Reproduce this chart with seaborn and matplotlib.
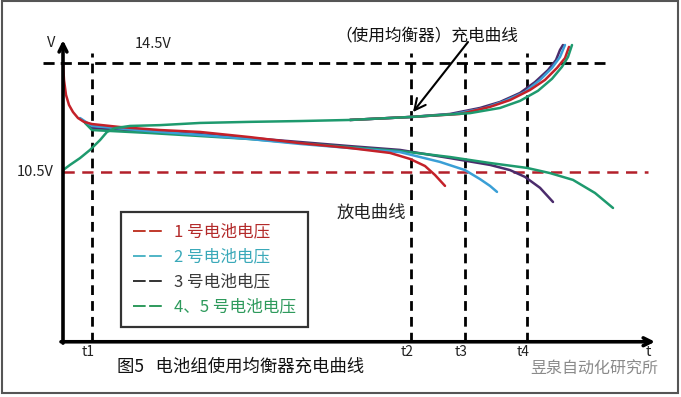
import numpy as np
import pandas as pd
import matplotlib
matplotlib.use("Agg")
import matplotlib.pyplot as plt
import seaborn as sns
from matplotlib.lines import Line2D
from matplotlib.patches import Rectangle

sns.set_theme(style="white")
plt.rcParams['font.family'] = ['Noto Sans CJK SC', 'DejaVu Sans']

# ---------------- data (time in arbitrary units, voltage in V) ----------------
# discharge curves
red_dis_t = [0, 0.1, 0.3, 0.6, 1.0, 1.5, 2.1, 2.9, 5.7, 9.7, 13.7, 18.7, 23.7, 28.7, 32.7, 34.7, 36.2, 37.2, 38.2]
red_dis_v = [14.5, 13.88, 13.33, 12.96, 12.70, 12.48, 12.34, 12.26, 12.15, 12.04, 11.97, 11.78, 11.56, 11.38, 11.20, 10.98, 10.72, 10.39, 9.99]

blue_dis_t = [1.7, 2.9, 8.7, 13.7, 18.7, 23.7, 28.7, 33.7, 37.7, 40.2, 41.7, 42.7, 43.4]
blue_dis_v = [12.48, 12.19, 12.00, 11.86, 11.71, 11.53, 11.38, 11.23, 10.87, 10.57, 10.24, 9.99, 9.77]

purple_dis_t = [1.9, 2.9, 8.7, 13.7, 18.7, 23.7, 28.7, 33.7, 38.7, 42.7, 44.7, 46.2, 47.7, 49.0]
purple_dis_v = [12.41, 12.11, 12.00, 11.89, 11.75, 11.60, 11.45, 11.31, 11.01, 10.76, 10.57, 10.32, 9.92, 9.40]

green_dis_t = [2.2, 2.9, 8.7, 13.7, 18.7, 23.7, 28.7, 33.7, 38.7, 42.7, 46.4, 48.7, 51.0, 53.2, 55.0]
green_dis_v = [12.30, 12.04, 11.93, 11.82, 11.71, 11.56, 11.41, 11.27, 11.05, 10.83, 10.65, 10.46, 10.21, 9.73, 9.18]

# charge curves (with balancer)
purple_chg_t = [28.7, 34.8, 38.7, 41.7, 43.7, 45.7, 47.2, 48.5, 49.3, 49.7, 50.0]
purple_chg_v = [12.41, 12.52, 12.63, 12.85, 13.07, 13.40, 13.80, 14.24, 14.61, 14.98, 15.16]

blue_chg_t = [28.7, 34.8, 39.2, 42.2, 44.2, 46.2, 47.7, 48.9, 49.7, 50.2]
blue_chg_v = [12.41, 12.52, 12.63, 12.85, 13.11, 13.44, 13.88, 14.32, 14.72, 15.16]

red_chg_t = [28.7, 34.8, 39.7, 42.7, 44.7, 46.7, 48.2, 49.4, 50.2, 50.6]
red_chg_v = [12.41, 12.52, 12.63, 12.89, 13.14, 13.51, 13.88, 14.32, 14.68, 15.09]

green_chg_t = [0, 0.7, 1.7, 2.7, 3.7, 4.4, 5.2, 6.7, 9.7, 13.7, 18.7, 23.7, 28.7, 34.8, 40.7, 43.7, 45.7, 47.5, 48.9, 49.9, 50.5, 50.9]
green_chg_v = [10.57, 10.76, 11.01, 11.31, 11.67, 11.97, 12.11, 12.19, 12.22, 12.30, 12.34, 12.37, 12.41, 12.52, 12.66, 12.85, 13.11, 13.48, 13.92, 14.36, 14.72, 15.16]

# reference marks
t_marks = [2.9, 34.8, 40.2, 46.4]
t_labels = ["t1", "t2", "t3", "t4"]
v_high, v_low = 14.5, 10.5
v_high_label, v_low_label = "14.5V", "10.5V"

legend_labels = ["1 号电池电压", "2 号电池电压", "3 号电池电压", "4、5 号电池电压"]
title_text = "（使用均衡器）充电曲线"
discharge_text = "放电曲线"
caption_text = "图5   电池组使用均衡器充电曲线"
watermark_text = "昱泉自动化研究所"

# ---------------- styling ----------------
C_RED = "#c42129"
C_BLUE = "#3a9fd6"
C_PURPLE = "#4b2c6c"
C_GREEN = "#1e9a6e"

W, H = 681, 397
def P(x, y):
    return (x / W, 1 - y / H)

fig = plt.figure(figsize=(W / 100, H / 100), dpi=100)
fig.patch.set_facecolor("white")
ax = fig.add_axes([0, 0, 1, 1])
ax.set_xlim(-6.3, 61.8)
ax.set_ylim(2.243, 16.812)
ax.axis("off")

V_AX = 4.27   # voltage at the drawn time axis
V_TOP = 14.87

# reference dashed lines
ax.plot([-2.0, 54.2], [v_high, v_high], color="black", lw=2.0, dashes=(4, 2.2), zorder=1)
ax.plot([0, 58.5], [v_low, v_low], color="#b3202a", lw=1.8, dashes=(4.5, 3), zorder=1)
for tm in t_marks:
    ax.plot([tm, tm], [V_AX, V_TOP], color="black", lw=2.0, dashes=(3.5, 2.2), zorder=1)

# curves
kw = dict(sort=False, estimator=None, ax=ax, legend=False, lw=1.8)
sns.lineplot(x=purple_dis_t, y=purple_dis_v, color=C_PURPLE, **kw)
sns.lineplot(x=green_dis_t, y=green_dis_v, color=C_GREEN, **kw)
sns.lineplot(x=blue_dis_t, y=blue_dis_v, color=C_BLUE, **kw)
sns.lineplot(x=red_dis_t, y=red_dis_v, color=C_RED, **kw)
sns.lineplot(x=purple_chg_t, y=purple_chg_v, color=C_PURPLE, **kw)
sns.lineplot(x=blue_chg_t, y=blue_chg_v, color=C_BLUE, **kw)
sns.lineplot(x=red_chg_t, y=red_chg_v, color=C_RED, **kw)
sns.lineplot(x=green_chg_t, y=green_chg_v, color=C_GREEN, **kw)

# axes arrows
ax.annotate("", xy=(0, 15.34), xytext=(0, V_AX - 0.05),
            arrowprops=dict(arrowstyle="->", lw=2.6, color="black", mutation_scale=14,
                            shrinkA=0, shrinkB=0))
ax.annotate("", xy=(59.2, V_AX), xytext=(-0.2, V_AX),
            arrowprops=dict(arrowstyle="->", lw=2.6, color="black", mutation_scale=14,
                            shrinkA=0, shrinkB=0))

# pointer to charge curve
ax.annotate("", xy=(35.0, 12.70), xytext=(40.5, 15.27),
            arrowprops=dict(arrowstyle="->", lw=1.5, color="black", mutation_scale=20,
                            shrinkA=0, shrinkB=0))

# texts
fig.text(*P(51, 43), "V", fontsize=10.5, ha="center", va="center", color="#222")
fig.text(*P(153, 44), v_high_label, fontsize=10.5, ha="center", va="center", color="#222")
fig.text(*P(54, 172), v_low_label, fontsize=10.5, ha="right", va="center", color="#222")
fig.text(*P(427, 36), title_text, fontsize=12, ha="center", va="center", color="#111")
fig.text(*P(371, 213), discharge_text, fontsize=12.5, ha="center", va="center", color="#222")
for tm, lab in zip(t_marks, t_labels):
    fig.text(tm * 10 / W + 63 / W - 4 / W, 1 - 352 / H, lab, fontsize=10,
             ha="center", va="center", color="#222")
fig.text(*P(648, 352), "t", fontsize=10.5, ha="center", va="center", color="#222")
fig.text(*P(117, 367), caption_text, fontsize=12.5, ha="left", va="center", color="#111")
fig.text(*P(530, 369), watermark_text, fontsize=11.5, ha="left", va="center", color="#8a8a8a")

# legend
handles = [Line2D([], [], color=c, lw=1.4, dashes=(6.5, 1.8))
           for c in ["#c0392b", "#4fb4c6", "#333333", "#2e9a5c"]]
leg = ax.legend(handles, legend_labels, loc="upper left", bbox_to_anchor=P(121, 212),
                bbox_transform=fig.transFigure, frameon=True, fancybox=False,
                edgecolor="black", fontsize=12, handlelength=1.8, handletextpad=0.7,
                labelspacing=0.48, borderpad=0.7, borderaxespad=0)
leg.get_frame().set_linewidth(1.6)
for txt, c in zip(leg.get_texts(), ["#b32a2a", "#3aa9b9", "#3a3a3a", "#2e9a5c"]):
    txt.set_color(c)

# outer frame of the picture
fig.patches.append(Rectangle(P(2, 393), 676 / W, 392 / H, transform=fig.transFigure,
                             fill=False, edgecolor="#555555", lw=1.5))

fig.savefig("out.png", dpi=100, facecolor="white")
